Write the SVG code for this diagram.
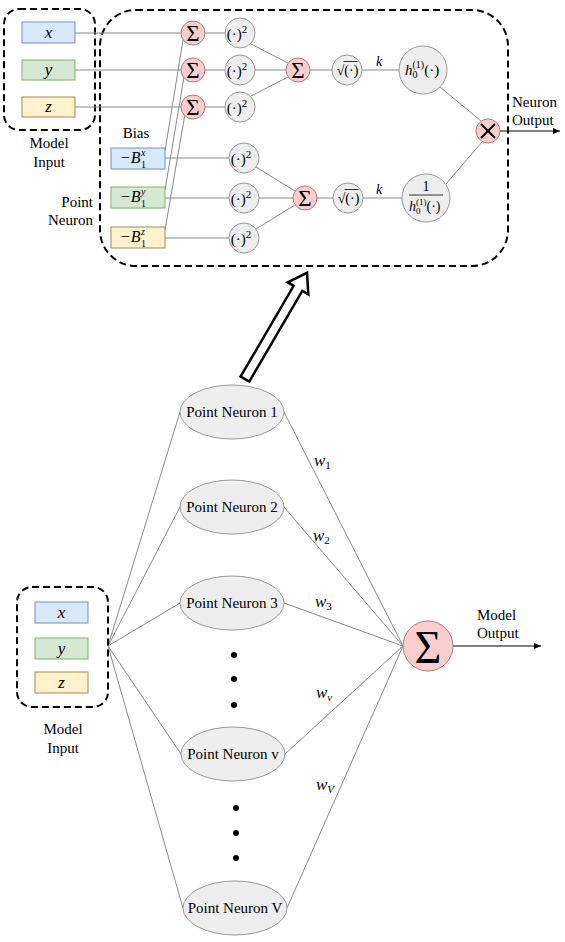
<svg xmlns="http://www.w3.org/2000/svg" width="565" height="942" viewBox="0 0 565 942">
<defs>
<marker id="arr" markerWidth="8" markerHeight="6" refX="7" refY="3" orient="auto" markerUnits="userSpaceOnUse">
<path d="M0,0 L7,3 L0,6 z" fill="#000"/>
</marker>
<style>
.lbl{font-family:"Liberation Serif","Times New Roman",serif;font-size:15px;fill:#000}
.m{font-family:"Liberation Serif","Times New Roman",serif;font-style:italic;fill:#000}
.mr{font-family:"Liberation Serif","Times New Roman",serif;fill:#000}
.dash{fill:none;stroke:#000;stroke-width:2;stroke-dasharray:7 4}
.pk{fill:#f8cecc;stroke:#b07c7a;stroke-width:1}
.gr{fill:#eeeeee;stroke:#999;stroke-width:1}
.bx{fill:#dae8fc;stroke:#6c8ebf;stroke-width:1}
.gx{fill:#d5e8d4;stroke:#82b366;stroke-width:1}
.yx{fill:#fff2cc;stroke:#a08a55;stroke-width:1}
.ln{stroke:#8a8a8a;stroke-width:1;fill:none}
</style>
</defs>
<rect width="565" height="942" fill="#fff"/>

<g id="group-model-input-top">
<rect class="dash" x="4" y="9" width="91" height="121" rx="15"/>
<text class="lbl" x="49" y="148" text-anchor="middle">Model</text>
<text class="lbl" x="49" y="167" text-anchor="middle">Input</text>
</g>
<g id="group-point-neuron">
<rect class="dash" x="100" y="10" width="408" height="256" rx="36"/>
<text class="lbl" x="93" y="207" text-anchor="end">Point</text>
<text class="lbl" x="93" y="225" text-anchor="end">Neuron</text>
<text class="lbl" x="136" y="138" text-anchor="middle">Bias</text>
</g>

<g id="connectors">
<line class="ln" x1="75" y1="33" x2="181" y2="33"/>
<line class="ln" x1="75" y1="70" x2="181" y2="70"/>
<line class="ln" x1="75" y1="107" x2="181" y2="107"/>
<line class="ln" x1="165" y1="151" x2="183" y2="40"/>
<line class="ln" x1="165" y1="190" x2="184" y2="77"/>
<line class="ln" x1="165" y1="230" x2="185" y2="114"/>
<line class="ln" x1="205" y1="33" x2="225" y2="33"/>
<line class="ln" x1="205" y1="70" x2="225" y2="70"/>
<line class="ln" x1="205" y1="107" x2="225" y2="107"/>
<line class="ln" x1="251" y1="44" x2="288" y2="63"/>
<line class="ln" x1="255" y1="70" x2="286" y2="70"/>
<line class="ln" x1="251" y1="96" x2="288" y2="77"/>
<line class="ln" x1="310" y1="70" x2="332" y2="70"/>
<line class="ln" x1="362" y1="70" x2="399" y2="70"/>
<line class="ln" x1="440" y1="87" x2="481" y2="121"/>
<line class="ln" x1="165" y1="158" x2="229" y2="158"/>
<line class="ln" x1="165" y1="198" x2="229" y2="198"/>
<line class="ln" x1="165" y1="238" x2="229" y2="238"/>
<line class="ln" x1="256" y1="167" x2="295" y2="191"/>
<line class="ln" x1="259" y1="198" x2="293" y2="198"/>
<line class="ln" x1="256" y1="229" x2="295" y2="205"/>
<line class="ln" x1="317" y1="198" x2="333" y2="198"/>
<line class="ln" x1="363" y1="198" x2="402" y2="198"/>
<line class="ln" x1="446" y1="184" x2="482" y2="142"/>
<line x1="500" y1="131" x2="560" y2="131" stroke="#000" stroke-width="1" marker-end="url(#arr)"/>
<line class="ln" x1="108" y1="646" x2="180" y2="412"/>
<line class="ln" x1="108" y1="646" x2="180" y2="507"/>
<line class="ln" x1="108" y1="646" x2="180" y2="603"/>
<line class="ln" x1="108" y1="646" x2="181" y2="754"/>
<line class="ln" x1="108" y1="646" x2="183" y2="908"/>
<line class="ln" x1="284" y1="412" x2="403" y2="646"/>
<line class="ln" x1="284" y1="507" x2="403" y2="646"/>
<line class="ln" x1="284" y1="603" x2="403" y2="646"/>
<line class="ln" x1="285" y1="754" x2="403" y2="646"/>
<line class="ln" x1="287" y1="908" x2="403" y2="646"/>
<line x1="453" y1="646" x2="541" y2="646" stroke="#000" stroke-width="1" marker-end="url(#arr)"/>
<g transform="translate(245,379) rotate(-59.7)">
<polygon points="0,-5 105,-5 105,-12 123,0 105,12 105,5 0,5" fill="#fff" stroke="#000" stroke-width="2.5" stroke-linejoin="miter"/>
</g>
</g>

<g id="in-x"><rect class="bx" x="22" y="22" width="53" height="21"/><text class="m" x="48.5" y="38" font-size="17" text-anchor="middle">x</text></g>
<g id="in-y"><rect class="gx" x="22" y="60" width="53" height="20"/><text class="m" x="48.5" y="75" font-size="17" text-anchor="middle">y</text></g>
<g id="in-z"><rect class="yx" x="22" y="97" width="53" height="20"/><text class="m" x="48.5" y="112" font-size="17" text-anchor="middle">z</text></g>

<g id="sum-x"><circle class="pk" cx="193" cy="33" r="12"/><text class="mr" x="193" y="41" font-size="23" text-anchor="middle">Σ</text></g>
<g id="sum-y"><circle class="pk" cx="193" cy="70" r="12"/><text class="mr" x="193" y="78" font-size="23" text-anchor="middle">Σ</text></g>
<g id="sum-z"><circle class="pk" cx="193" cy="107" r="12"/><text class="mr" x="193" y="115" font-size="23" text-anchor="middle">Σ</text></g>

<g id="sq1"><circle class="gr" cx="240" cy="33" r="15"/><text class="mr" x="237" y="38.5" font-size="15" text-anchor="middle">(·)<tspan font-size="11" dy="-6">2</tspan></text></g>
<g id="sq2"><circle class="gr" cx="240" cy="70" r="15"/><text class="mr" x="237" y="75.5" font-size="15" text-anchor="middle">(·)<tspan font-size="11" dy="-6">2</tspan></text></g>
<g id="sq3"><circle class="gr" cx="240" cy="107" r="15"/><text class="mr" x="237" y="112.5" font-size="15" text-anchor="middle">(·)<tspan font-size="11" dy="-6">2</tspan></text></g>

<g id="sum-mid"><circle class="pk" cx="298" cy="70" r="12"/><text class="mr" x="298" y="78" font-size="23" text-anchor="middle">Σ</text></g>
<g id="sqrt1"><circle class="gr" cx="347" cy="70" r="15"/><text class="mr" x="347.5" y="75" font-size="14" text-anchor="middle">√(·)</text><line x1="343.5" y1="61.5" x2="357.5" y2="61.5" stroke="#000" stroke-width="0.8"/></g>
<text class="m" x="379" y="66" font-size="14" text-anchor="middle">k</text>
<g id="h1"><circle class="gr" cx="423" cy="70" r="24"/><text class="m" x="405" y="75" font-size="15">h<tspan font-size="10" dy="3" font-style="normal">0</tspan><tspan font-size="10" dx="-5" dy="-10" font-style="normal">(1)</tspan><tspan dy="7" font-style="normal">(·)</tspan></text></g>
<g id="mult"><circle class="pk" cx="488" cy="131" r="12"/><line x1="481" y1="124" x2="495" y2="138" stroke="#000" stroke-width="2"/><line x1="495" y1="124" x2="481" y2="138" stroke="#000" stroke-width="2"/></g>
<text class="lbl" x="512" y="107">Neuron</text>
<text class="lbl" x="512" y="125">Output</text>

<g id="bias-x"><rect class="bx" x="111" y="148" width="54" height="21"/><text class="m" x="120" y="163" font-size="16">−B</text><text class="mr" x="141" y="168" font-size="10">1</text><text class="m" x="141" y="156" font-size="10">x</text></g>
<g id="bias-y"><rect class="gx" x="111" y="187" width="54" height="21"/><text class="m" x="120" y="202" font-size="16">−B</text><text class="mr" x="141" y="207" font-size="10">1</text><text class="m" x="141" y="195" font-size="10">y</text></g>
<g id="bias-z"><rect class="yx" x="111" y="227" width="54" height="21"/><text class="m" x="120" y="242" font-size="16">−B</text><text class="mr" x="141" y="247" font-size="10">1</text><text class="m" x="141" y="235" font-size="10">z</text></g>

<g id="sq4"><circle class="gr" cx="244" cy="158" r="15"/><text class="mr" x="241" y="163.5" font-size="15" text-anchor="middle">(·)<tspan font-size="11" dy="-6">2</tspan></text></g>
<g id="sq5"><circle class="gr" cx="244" cy="198" r="15"/><text class="mr" x="241" y="203.5" font-size="15" text-anchor="middle">(·)<tspan font-size="11" dy="-6">2</tspan></text></g>
<g id="sq6"><circle class="gr" cx="244" cy="238" r="15"/><text class="mr" x="241" y="243.5" font-size="15" text-anchor="middle">(·)<tspan font-size="11" dy="-6">2</tspan></text></g>
<g id="sum-bias"><circle class="pk" cx="305" cy="198" r="12"/><text class="mr" x="305" y="206" font-size="23" text-anchor="middle">Σ</text></g>
<g id="sqrt2"><circle class="gr" cx="348" cy="198" r="15"/><text class="mr" x="348.5" y="203" font-size="14" text-anchor="middle">√(·)</text><line x1="344.5" y1="189.5" x2="358.5" y2="189.5" stroke="#000" stroke-width="0.8"/></g>
<text class="m" x="379" y="194" font-size="14" text-anchor="middle">k</text>
<g id="h2"><circle class="gr" cx="426" cy="198" r="24"/><text class="mr" x="426" y="191" font-size="14" text-anchor="middle">1</text><line x1="409" y1="195" x2="443" y2="195" stroke="#000" stroke-width="0.8"/><text class="m" x="409" y="211" font-size="14">h<tspan font-size="9" dy="3" font-style="normal">0</tspan><tspan font-size="9" dx="-4.5" dy="-9" font-style="normal">(1)</tspan><tspan dy="6" font-style="normal">(·)</tspan></text></g>

<g id="group-model-input-bottom">
<rect class="dash" x="17" y="587" width="91" height="120" rx="15"/>
<text class="lbl" x="63" y="734" font-size="16" text-anchor="middle">Model</text>
<text class="lbl" x="63" y="753" font-size="16" text-anchor="middle">Input</text>
</g>
<g id="in2-x"><rect class="bx" x="35" y="602" width="53" height="21"/><text class="m" x="61.5" y="618" font-size="17" text-anchor="middle">x</text></g>
<g id="in2-y"><rect class="gx" x="35" y="638" width="53" height="21"/><text class="m" x="61.5" y="654" font-size="17" text-anchor="middle">y</text></g>
<g id="in2-z"><rect class="yx" x="35" y="672" width="53" height="21"/><text class="m" x="61.5" y="688" font-size="17" text-anchor="middle">z</text></g>

<g id="pn1"><ellipse class="gr" cx="232" cy="412" rx="52" ry="27"/><text class="lbl" x="232" y="417" font-size="16" text-anchor="middle">Point Neuron 1</text></g>
<g id="pn2"><ellipse class="gr" cx="232" cy="507" rx="52" ry="27"/><text class="lbl" x="232" y="512" font-size="16" text-anchor="middle">Point Neuron 2</text></g>
<g id="pn3"><ellipse class="gr" cx="232" cy="603" rx="52" ry="27"/><text class="lbl" x="232" y="608" font-size="16" text-anchor="middle">Point Neuron 3</text></g>
<g id="pnv"><ellipse class="gr" cx="233" cy="754" rx="52" ry="27"/><text class="lbl" x="233" y="759" font-size="16" text-anchor="middle">Point Neuron v</text></g>
<g id="pnV"><ellipse class="gr" cx="235" cy="908" rx="52" ry="27"/><text class="lbl" x="235" y="913" font-size="16" text-anchor="middle">Point Neuron V</text></g>
<g id="dots">
<circle cx="234" cy="655" r="3"/><circle cx="234" cy="679" r="3"/><circle cx="234" cy="705" r="3"/>
<circle cx="236" cy="808" r="3"/><circle cx="236" cy="833" r="3"/><circle cx="236" cy="858" r="3"/>
</g>

<text class="m" x="314" y="466" font-size="17">w<tspan font-size="11" dy="3" font-style="normal">1</tspan></text>
<text class="m" x="313" y="541" font-size="17">w<tspan font-size="11" dy="3" font-style="normal">2</tspan></text>
<text class="m" x="315" y="607" font-size="17">w<tspan font-size="11" dy="3" font-style="normal">3</tspan></text>
<text class="m" x="316" y="698" font-size="17">w<tspan font-size="11" dy="3">v</tspan></text>
<text class="m" x="316" y="790" font-size="17">w<tspan font-size="11" dy="3">V</tspan></text>

<g id="sum-out"><circle class="pk" cx="428" cy="646" r="25"/><text class="mr" x="428" y="663" font-size="46" text-anchor="middle">Σ</text></g>
<text class="lbl" x="477" y="620" font-size="16">Model</text>
<text class="lbl" x="477" y="638" font-size="16">Output</text>
</svg>
